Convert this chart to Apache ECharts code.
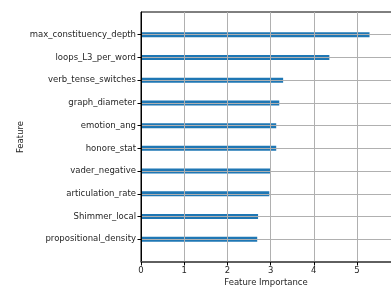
<!DOCTYPE html>
<html>
<head>
<meta charset="utf-8">
<script src="https://cdn.jsdelivr.net/npm/echarts@6/dist/echarts.min.js"></script>
<style>html,body{margin:0;padding:0;background:#fff;overflow:hidden;width:391px;height:291px;}#c{width:411px;height:291px;}</style>
</head>
<body>
<div id="c"></div>
<script>
const features = ['max_constituency_depth','loops_L3_per_word','verb_tense_switches','graph_diameter','emotion_ang','honore_stat','vader_negative','articulation_rate','Shimmer_local','propositional_density'];
const importance = [5.29, 4.36, 3.29, 3.20, 3.13, 3.13, 2.99, 2.97, 2.71, 2.69];
const xTicks = [0, 1, 2, 3, 4, 5];

const cats = [''].concat(features, ['']);
const vals = [null].concat(importance, [null]);
const isPad = (i) => i === 0 || i === cats.length - 1;
const font = 'DejaVu Sans';

const chart = echarts.init(document.getElementById('c'));
chart.setOption({
  animation: false,
  grid: { left: 141, top: 12, right: 0, bottom: 29, show: true, borderColor: '#000', borderWidth: 1, backgroundColor: 'transparent' },
  xAxis: {
    type: 'value', min: 0, max: 6.25, interval: 1, z: 5,
    axisLine: { show: true, lineStyle: { color: '#555', width: 1.5 } },
    axisTick: { show: true, length: 3.5, lineStyle: { color: '#000' } },
    axisLabel: { color: '#262626', fontFamily: font, fontSize: 8.5, margin: 4, showMaxLabel: false,
      formatter: (v) => xTicks.indexOf(v) >= 0 ? String(v) : '' },
    splitLine: { show: true, lineStyle: { color: '#b0b0b0', width: 1 } }
  },
  yAxis: {
    type: 'category', data: cats, inverse: true, boundaryGap: false, z: 5,
    axisLine: { show: true, lineStyle: { color: '#000', width: 1 } },
    axisTick: { show: true, length: 3.5, interval: (i) => !isPad(i), lineStyle: { color: '#000' } },
    axisLabel: { color: '#262626', fontFamily: font, fontSize: 8.5, margin: 5, interval: (i) => !isPad(i) },
    splitLine: { show: true, interval: (i) => !isPad(i), lineStyle: { color: '#b0b0b0', width: 1 } }
  },
  series: [{
    type: 'bar', data: vals, barWidth: 5, z: 1,
    itemStyle: { color: '#1f77b4' }
  }],
  graphic: [
    { type: 'text', x: 266, y: 283, style: { text: 'Feature Importance', font: '8.5px "DejaVu Sans"', fill: '#262626', textAlign: 'center', textVerticalAlign: 'middle' } },
    { type: 'text', x: 21, y: 137, rotation: Math.PI / 2, style: { text: 'Feature', font: '8.5px "DejaVu Sans"', fill: '#262626', textAlign: 'center', textVerticalAlign: 'middle' } }
  ]
});
</script>
</body>
</html>
